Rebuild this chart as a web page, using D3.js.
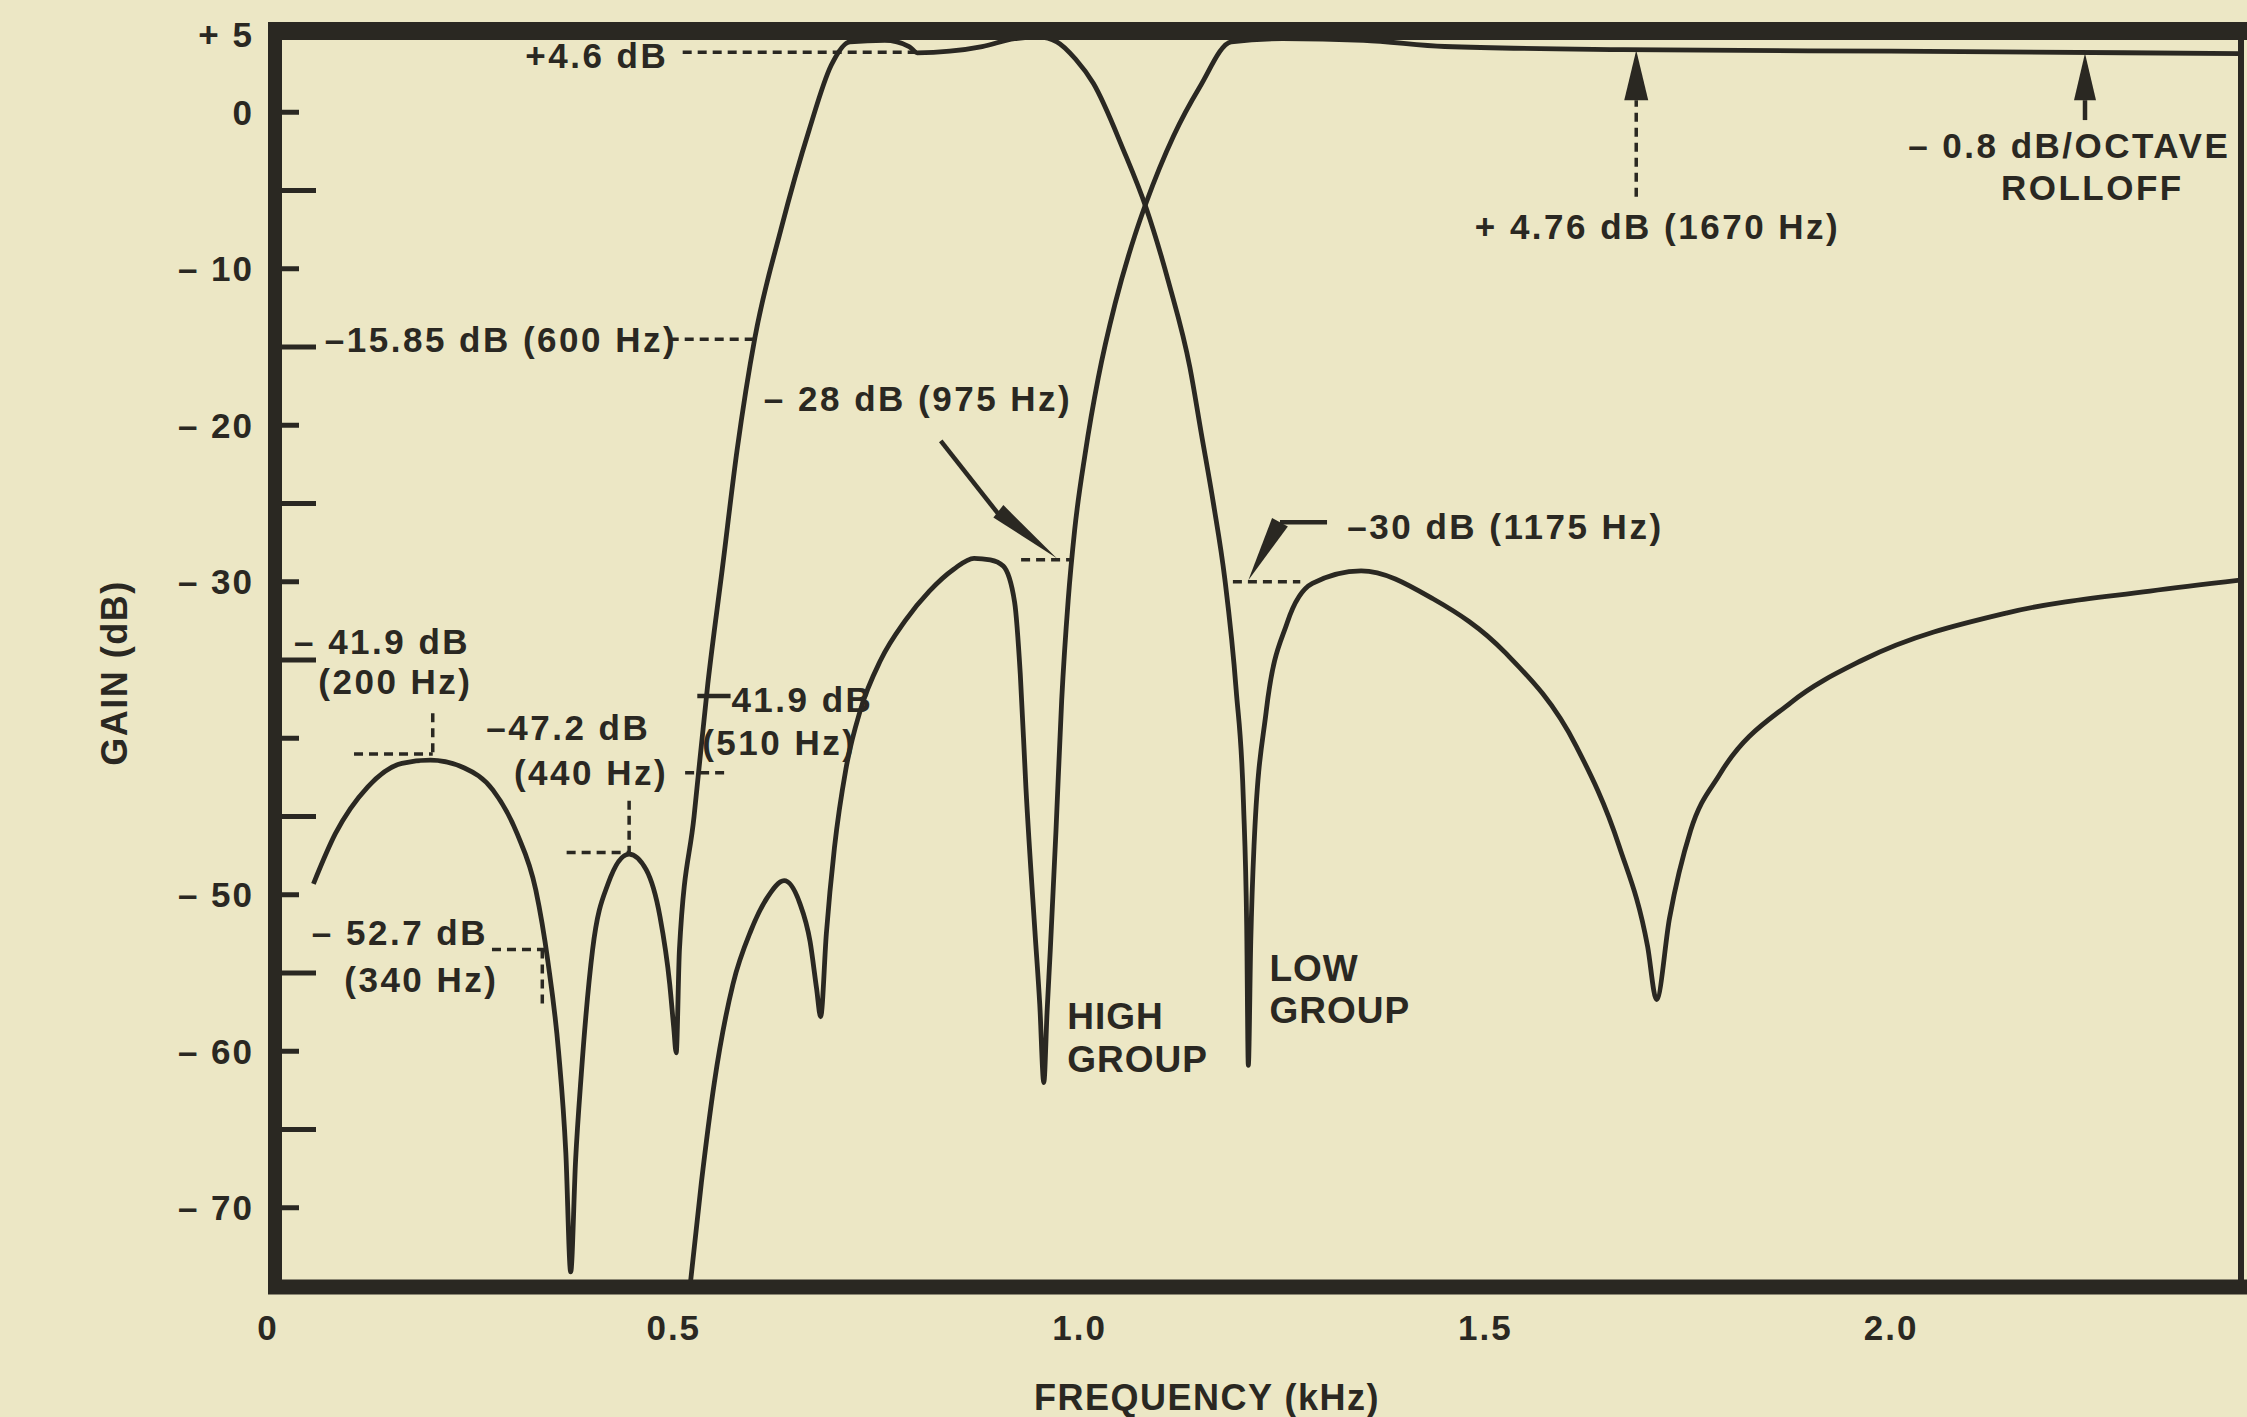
<!DOCTYPE html>
<html><head><meta charset="utf-8">
<script src="https://cdn.jsdelivr.net/npm/d3@7"></script>
<style>
html,body{margin:0;padding:0;background:#ece7c5;}
svg{display:block;}
text{font-family:"Liberation Sans",Arial,Helvetica,sans-serif;font-weight:bold;fill:#2a2822;}
</style></head><body>
<svg id="chart" width="2247" height="1417"></svg>
<script>
// ---------- data (kHz, dB) ----------
const lowGroupFreq = [0.056,0.083,0.123,0.165,0.200,0.242,0.277,0.307,0.330,0.345,0.358,0.367,0.373,0.379,0.386,0.400,0.419,0.445,0.466,0.483,0.495,0.500,0.503,0.507,0.525,0.542,0.560,0.578,0.600,0.632,0.667,0.694,0.717,0.760,0.790,0.800,0.840,0.880,0.920,0.950,0.972,0.995,1.017,1.054,1.082,1.110,1.136,1.150,1.165,1.179,1.193,1.202,1.206,1.208,1.211,1.215,1.230,1.256,1.287,1.347,1.436,1.524,1.612,1.665,1.700,1.711,1.727,1.753,1.789,1.877,1.965,2.142,2.319,2.430];
const lowGroupGain = [-49.3,-46.1,-43.1,-41.6,-41.4,-41.9,-43.3,-46.1,-49.7,-54.3,-60.0,-66.5,-74.1,-67.0,-61.5,-53.5,-49.3,-47.4,-48.4,-51.4,-55.7,-58.5,-60.1,-53.5,-45.0,-36.5,-29.1,-21.6,-14.4,-7.5,-1.1,3.0,4.5,4.6,4.2,3.8,3.9,4.2,4.7,4.8,4.5,3.4,1.85,-2.4,-6.1,-10.9,-16.3,-20.5,-25.0,-29.8,-36.9,-44.1,-52.0,-60.9,-53.0,-46.9,-38.3,-32.6,-30.1,-29.3,-31.1,-34.5,-40.5,-46.9,-53.3,-56.7,-51.5,-45.9,-42.3,-37.7,-35.0,-32.0,-30.6,-29.9];

const highGroupFreq = [0.518,0.534,0.550,0.573,0.595,0.615,0.636,0.655,0.668,0.676,0.681,0.688,0.698,0.712,0.730,0.755,0.785,0.815,0.845,0.870,0.890,0.906,0.920,0.927,0.934,0.945,0.951,0.956,0.960,0.964,0.971,0.978,0.986,0.994,1.007,1.023,1.044,1.068,1.082,1.116,1.148,1.187,1.250,1.350,1.450,1.670,2.000,2.430];
const highGroupGain = [-76.0,-68.4,-62.0,-55.7,-52.3,-50.2,-49.1,-50.5,-53.0,-56.0,-57.8,-52.5,-47.0,-42.0,-38.2,-35.0,-32.5,-30.6,-29.2,-28.5,-28.6,-29.0,-31.3,-35.9,-43.2,-52.3,-57.0,-62.0,-57.5,-53.5,-45.9,-37.6,-31.2,-26.7,-21.8,-17.0,-12.2,-7.9,-5.8,-1.5,1.6,4.5,4.7,4.6,4.2,4.0,3.9,3.75];

const xTickValues = [0, 0.5, 1.0, 1.5, 2.0];
const xTickLabels = ["0", "0.5", "1.0", "1.5", "2.0"];
const yLabelValues = [5, 0, -10, -20, -30, -50, -60, -70];
const yLabelTexts = ["+ 5", "0", "\u2013 10", "\u2013 20", "\u2013 30", "\u2013 50", "\u2013 60", "\u2013 70"];
const yShortTicks = [0, -10, -20, -30, -40, -50, -60, -70];
const yLongTicks = [-5, -15, -25, -35, -45, -55, -65];

// annotation texts: [text, kHz, dB (baseline), anchor, big?]
const noteTexts = [
  ["+4.6 dB", 0.317, 2.81, "start", 0],
  ["\u201315.85 dB (600 Hz)", 0.070, -15.34, "start", 0],
  ["\u2013 28 dB (975 Hz)", 0.611, -19.1, "start", 0],
  ["\u201330 dB (1175 Hz)", 1.330, -27.3, "start", 0],
  ["+ 4.76 dB (1670 Hz)", 1.487, -8.1, "start", 0],
  ["\u2013 0.8 dB/OCTAVE", 2.418, -2.9, "end", 0],
  ["ROLLOFF", 2.248, -5.6, "middle", 0],
  ["\u2013 41.9 dB", 0.032, -34.6, "start", 0],
  ["(200 Hz)", 0.062, -37.2, "start", 0],
  ["\u201347.2 dB", 0.269, -40.1, "start", 0],
  ["(440 Hz)", 0.303, -43.0, "start", 0],
  ["41.9 dB", 0.571, -38.3, "start", 0],
  ["(510 Hz)", 0.535, -41.1, "start", 0],
  ["\u2013 52.7 dB", 0.054, -53.2, "start", 0],
  ["(340 Hz)", 0.094, -56.2, "start", 0],
  ["HIGH", 0.985, -58.6, "start", 1],
  ["GROUP", 0.985, -61.3, "start", 1],
  ["LOW", 1.234, -55.5, "start", 1],
  ["GROUP", 1.234, -58.2, "start", 1]
];
// dashed leader lines: [k1, d1, k2, d2]
const noteDashes = [
  [0.511, 3.83, 0.801, 3.83],
  [0.495, -14.5, 0.598, -14.5],
  [0.928, -28.6, 0.991, -28.6],
  [1.189, -30.0, 1.272, -30.0],
  [0.106, -41.0, 0.203, -41.0],
  [0.203, -38.4, 0.203, -41.2],
  [0.368, -47.3, 0.445, -47.3],
  [0.445, -44.0, 0.445, -47.3],
  [0.514, -42.2, 0.567, -42.2],
  [0.276, -53.5, 0.341, -53.5],
  [0.338, -53.5, 0.338, -57.2],
  [1.686, -5.4, 1.686, 0.77]
];
// solid lines: [k1,d1,k2,d2]
const noteSolid = [
  [0.529, -37.3, 0.570, -37.3],
  [0.829, -21.0, 0.905, -26.0],
  [1.305, -26.2, 1.247, -26.2],
  [2.239, -0.5, 2.239, 0.77]
];
// arrowheads: [baseK, baseD, tipK, tipD, halfWidth]
const noteArrows = [
  [0.900, -25.5, 0.972, -28.5, 8],
  [1.247, -26.2, 1.208, -29.9, 9],
  [1.686, 0.77, 1.686, 3.96, 12],
  [2.239, 0.77, 2.239, 3.77, 11]
];

// ---------- chart ----------
const svg = d3.select("#chart");
const ink = "#2a2822";
const x = d3.scaleLinear().domain([0, 2.43]).range([268, 2240]);
const y = d3.scaleLinear().domain([-75, 5]).range([1286, 34]);

svg.append("rect").attr("width", 2247).attr("height", 1417).attr("fill", "#ece7c5");

svg.append("defs").append("clipPath").attr("id", "plot")
  .append("rect").attr("x", x(0)).attr("y", y(5) - 10)
  .attr("width", x(2.43) - x(0)).attr("height", y(-75) - y(5) + 10);

const line = d3.line().x(d => x(d[0])).y(d => y(d[1])).curve(d3.curveMonotoneX);
const low = lowGroupFreq.map((f, i) => [f, lowGroupGain[i]]);
const high = highGroupFreq.map((f, i) => [f, highGroupGain[i]]);

const g = svg.append("g").attr("clip-path", "url(#plot)");
[low, high].forEach(s => {
  g.append("path").datum(s).attr("d", line)
    .attr("fill", "none").attr("stroke", ink).attr("stroke-width", 4.8)
    .attr("stroke-linejoin", "round");
});

// frame
const L = x(0), R = x(2.43), T = y(5), B = y(-75);
svg.append("line").attr("x1", L).attr("x2", 2247).attr("y1", T - 3).attr("y2", T - 3)
  .attr("stroke", ink).attr("stroke-width", 18);
svg.append("line").attr("x1", L).attr("x2", 2247).attr("y1", B + 1).attr("y2", B + 1)
  .attr("stroke", ink).attr("stroke-width", 15);
svg.append("line").attr("x1", L + 7).attr("x2", L + 7).attr("y1", T - 12).attr("y2", B + 8)
  .attr("stroke", ink).attr("stroke-width", 14);
svg.append("line").attr("x1", R + 1).attr("x2", R + 1).attr("y1", T - 12).attr("y2", B + 8)
  .attr("stroke", ink).attr("stroke-width", 6);

// y ticks
const inner = L + 14;
svg.selectAll(".ts").data(yShortTicks).enter().append("line")
  .attr("x1", inner).attr("x2", inner + 17).attr("y1", d => y(d)).attr("y2", d => y(d))
  .attr("stroke", ink).attr("stroke-width", 5);
svg.selectAll(".tl").data(yLongTicks).enter().append("line")
  .attr("x1", inner).attr("x2", inner + 34).attr("y1", d => y(d)).attr("y2", d => y(d))
  .attr("stroke", ink).attr("stroke-width", 5);
svg.selectAll(".yl").data(yLabelValues).enter().append("text")
  .attr("x", L - 14).attr("y", d => y(d)).attr("dy", "0.36em")
  .attr("text-anchor", "end").attr("font-size", 35).attr("letter-spacing", 2)
  .text((d, i) => yLabelTexts[i]);

// x labels
svg.selectAll(".xl").data(xTickValues).enter().append("text")
  .attr("x", d => x(d)).attr("y", B + 54).attr("text-anchor", "middle")
  .attr("font-size", 35).attr("letter-spacing", 2).text((d, i) => xTickLabels[i]);

svg.append("text").attr("x", 1207).attr("y", 1410).attr("text-anchor", "middle")
  .attr("font-size", 36).attr("letter-spacing", 1.5).text("FREQUENCY (kHz)");
svg.append("text").attr("transform", "translate(127,673) rotate(-90)")
  .attr("text-anchor", "middle").attr("font-size", 36).attr("letter-spacing", 1.5).text("GAIN (dB)");

// annotations
svg.selectAll(".nd").data(noteDashes).enter().append("line")
  .attr("x1", d => x(d[0])).attr("y1", d => y(d[1])).attr("x2", d => x(d[2])).attr("y2", d => y(d[3]))
  .attr("stroke", ink).attr("stroke-width", 3.5).attr("stroke-dasharray", "9,6");
svg.selectAll(".ns").data(noteSolid).enter().append("line")
  .attr("x1", d => x(d[0])).attr("y1", d => y(d[1])).attr("x2", d => x(d[2])).attr("y2", d => y(d[3]))
  .attr("stroke", ink).attr("stroke-width", 4.5);
svg.selectAll(".na").data(noteArrows).enter().append("path")
  .attr("d", d => {
    const bx = x(d[0]), by = y(d[1]), tx = x(d[2]), ty = y(d[3]);
    const dx = tx - bx, dy = ty - by, len = Math.hypot(dx, dy);
    const nx = -dy / len * d[4], ny = dx / len * d[4];
    return `M${bx + nx},${by + ny}L${tx},${ty}L${bx - nx},${by - ny}Z`;
  })
  .attr("fill", ink);

svg.selectAll(".nt").data(noteTexts).enter().append("text")
  .attr("x", d => x(d[1])).attr("y", d => y(d[2]))
  .attr("text-anchor", d => d[3])
  .attr("font-size", d => d[4] ? 37 : 35)
  .attr("letter-spacing", d => d[4] ? 1 : 2.5)
  .text(d => d[0]);
</script>
</body></html>
